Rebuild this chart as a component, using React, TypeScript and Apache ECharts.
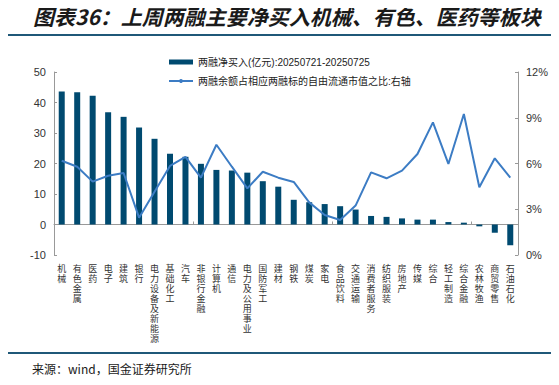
import React, { useEffect, useRef } from "react";
import * as echarts from "echarts";

const categories = [
  "机械", "有色金属", "医药", "电子", "建筑", "银行", "电力设备及新能源", "基础化工", "汽车", "非银行金融",
  "计算机", "通信", "电力及公用事业", "国防军工", "建材", "钢铁", "煤炭", "家电", "食品饮料", "交通运输",
  "消费者服务", "纺织服装", "房地产", "传媒", "综合", "轻工制造", "综合金融", "农林牧渔", "商贸零售", "石油石化",
];

const netBuy = [
  43.6, 43.4, 42.2, 36.8, 35.3, 31.8, 28.1, 23.2, 22.2, 19.9,
  17.9, 17.7, 17.0, 14.2, 12.4, 8.1, 7.3, 6.7, 6.0, 4.9,
  2.8, 2.5, 2.0, 1.6, 1.6, 0.8, 0.6, -0.6, -2.7, -6.8,
];

const marginRatio = [
  6.18, 5.79, 4.81, 5.2, 5.38, 2.45, 4.15, 5.84, 6.43, 5.07,
  7.23, 5.79, 4.37, 5.46, 5.07, 4.79, 3.45, 2.62, 2.3, 3.24,
  5.42, 5.03, 5.53, 6.62, 8.7, 5.97, 9.25, 4.44, 6.34, 5.07,
];

const barName = "两融净买入(亿元):20250721-20250725";
const lineName = "两融余额占相应两融标的自由流通市值之比:右轴";
const titleText = "图表36：上周两融主要净买入机械、有色、医药等板块";
const sourceText = "来源：wind，国金证券研究所";

const FONT = "'Liberation Sans', 'Noto Sans CJK SC', sans-serif";

export default function App() {
  const ref = useRef<HTMLDivElement>(null);
  useEffect(() => {
    if (!ref.current) return;
    const chart = echarts.init(ref.current, undefined, { renderer: "svg" });
    chart.setOption({
      animation: false,
      backgroundColor: "#ffffff",
      textStyle: { fontFamily: FONT },
      graphic: [
        {
          type: "text",
          left: 33,
          top: 5,
          style: {
            text: titleText,
            fontSize: 21,
            fontWeight: "bold",
            fontStyle: "italic",
            fill: "#1a1a1a",
            fontFamily: "'Noto Sans CJK SC', sans-serif",
          },
        },
        {
          type: "rect",
          shape: { x: 5, y: 34, width: 548, height: 2 },
          style: { fill: "#1f5878" },
        },
        {
          type: "rect",
          shape: { x: 5, y: 352, width: 548, height: 2 },
          style: { fill: "#1f5878" },
        },
        {
          type: "text",
          left: 32,
          top: 362,
          style: {
            text: sourceText,
            fontSize: 12,
            fill: "#1a1a1a",
            fontFamily: "'Noto Sans CJK SC', sans-serif",
          },
        },
      ],
      legend: {
        orient: "vertical",
        left: 163,
        top: 52,
        itemGap: 9,
        itemWidth: 24,
        itemHeight: 5,
        textStyle: { fontSize: 10, color: "#222", fontFamily: FONT },
        data: [
          { name: barName, icon: "rect" },
          { name: lineName },
        ],
      },
      grid: { left: 54, right: 41, top: 72, bottom: 130, containLabel: false },
      xAxis: [
        {
          type: "category",
          data: categories,
          boundaryGap: true,
          axisLine: { onZero: true, lineStyle: { color: "#999", width: 1 } },
          axisTick: { show: true, inside: true, length: 3, lineStyle: { color: "#999" } },
          axisLabel: { show: false },
        },
        {
          type: "category",
          data: categories,
          position: "bottom",
          boundaryGap: true,
          axisLine: { show: false, onZero: false },
          axisTick: { show: false },
          axisLabel: {
            show: true,
            interval: 0,
            margin: 8,
            fontSize: 9,
            lineHeight: 10,
            color: "#333",
            fontFamily: "'Noto Sans CJK SC', sans-serif",
            verticalAlign: "top",
            formatter: (v: string) => v.split("").join("\n"),
          },
        },
      ],
      yAxis: [
        {
          type: "value",
          min: -10,
          max: 50,
          interval: 10,
          splitLine: { show: false },
          axisLine: { show: true, lineStyle: { color: "#999" } },
          axisTick: { show: true, inside: true, length: 3, lineStyle: { color: "#999" } },
          axisLabel: { fontSize: 11, color: "#333", margin: 8, fontFamily: FONT },
        },
        {
          type: "value",
          min: 0,
          max: 12,
          interval: 3,
          position: "right",
          splitLine: { show: false },
          axisLine: { show: true, lineStyle: { color: "#999" } },
          axisTick: { show: true, inside: true, length: 3, lineStyle: { color: "#999" } },
          axisLabel: { fontSize: 11, color: "#333", margin: 8, formatter: "{value}%", fontFamily: FONT },
        },
      ],
      series: [
        {
          name: barName,
          type: "bar",
          xAxisIndex: 0,
          yAxisIndex: 0,
          data: netBuy,
          barWidth: 6,
          itemStyle: { color: "#004a70" },
        },
        {
          name: lineName,
          type: "line",
          xAxisIndex: 0,
          yAxisIndex: 1,
          data: marginRatio,
          symbol: "none",
          lineStyle: { color: "#3c7cc4", width: 2 },
          itemStyle: { color: "#3c7cc4" },
        },
      ],
    });
    return () => chart.dispose();
  }, []);
  return <div ref={ref} style={{ width: 559, height: 385, margin: -8 }} />;
}
